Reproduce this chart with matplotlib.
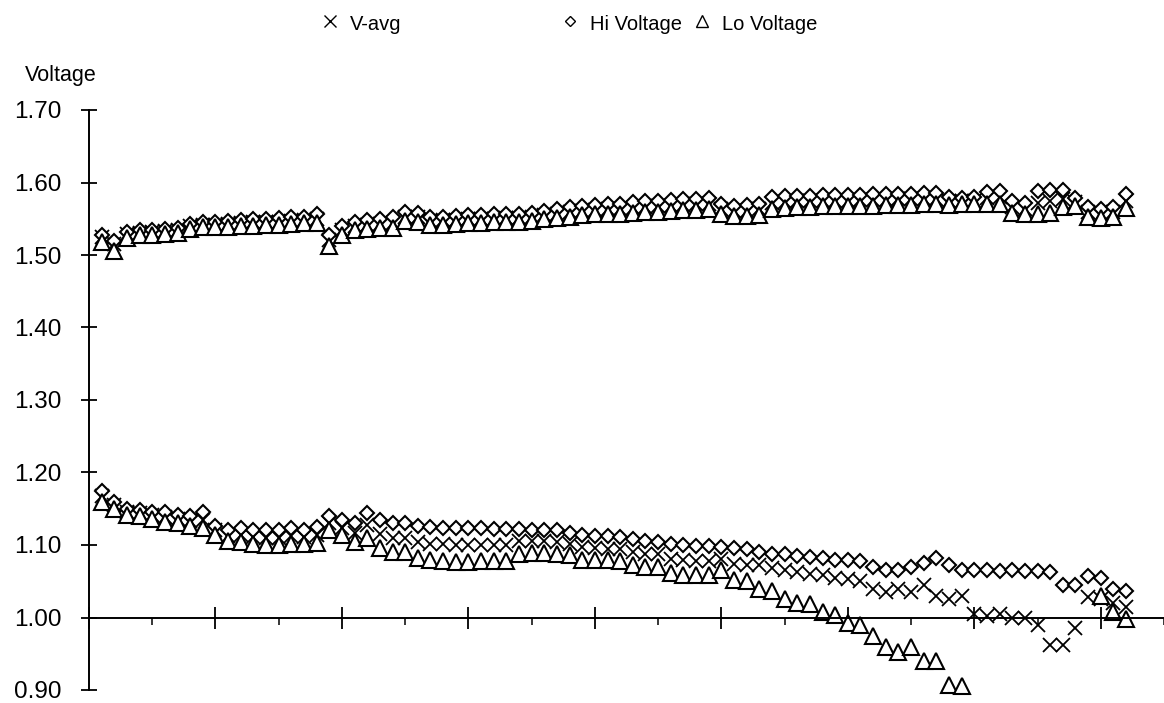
import numpy as np
import matplotlib
matplotlib.use("Agg")
from matplotlib import pyplot as plt
from matplotlib.lines import Line2D
from matplotlib.ticker import MultipleLocator, FormatStrFormatter

plt.rcParams['font.family'] = ['Liberation Sans', 'DejaVu Sans']

nan = np.nan
readings = np.arange(1, 83)

# upper pack
avg_top = [1.525, 1.515, 1.529, 1.531, 1.532, 1.533, 1.534, 1.540, 1.541, 1.542,
           1.543, 1.544, 1.545, 1.546, 1.546, 1.547, 1.548, 1.550, 1.521, 1.534,
           1.540, 1.542, 1.543, 1.544, 1.553, 1.552, 1.547, 1.548, 1.548, 1.549,
           1.550, 1.550, 1.551, 1.551, 1.552, 1.555, 1.557, 1.560, 1.561, 1.562,
           1.563, 1.564, 1.565, 1.566, 1.567, 1.568, 1.569, 1.570, 1.570, 1.563,
           1.561, 1.561, 1.563, 1.572, 1.573, 1.574, 1.574, 1.575, 1.575, 1.575,
           1.576, 1.576, 1.576, 1.577, 1.577, 1.577, 1.577, 1.574, 1.574, 1.575,
           1.579, 1.580, 1.566, 1.564, 1.572, 1.574, 1.577, 1.573, 1.559, 1.557,
           1.559, 1.574]
hi_top = [1.528, 1.520, 1.532, 1.534, 1.535, 1.536, 1.537, 1.543, 1.545, 1.546,
          1.547, 1.548, 1.549, 1.550, 1.551, 1.552, 1.553, 1.556, 1.528, 1.540,
          1.546, 1.548, 1.550, 1.552, 1.560, 1.558, 1.553, 1.553, 1.554, 1.555,
          1.555, 1.556, 1.556, 1.557, 1.558, 1.561, 1.563, 1.566, 1.568, 1.569,
          1.570, 1.571, 1.573, 1.574, 1.575, 1.576, 1.577, 1.577, 1.578, 1.570,
          1.568, 1.569, 1.571, 1.580, 1.581, 1.582, 1.582, 1.583, 1.583, 1.583,
          1.583, 1.584, 1.584, 1.584, 1.584, 1.585, 1.585, 1.580, 1.578, 1.580,
          1.587, 1.588, 1.574, 1.572, 1.588, 1.590, 1.589, 1.578, 1.566, 1.564,
          1.566, 1.584]
lo_top = [1.518, 1.506, 1.524, 1.527, 1.528, 1.529, 1.530, 1.536, 1.538, 1.538,
          1.539, 1.540, 1.540, 1.541, 1.542, 1.543, 1.544, 1.544, 1.512, 1.528,
          1.535, 1.536, 1.537, 1.537, 1.547, 1.546, 1.542, 1.542, 1.543, 1.544,
          1.544, 1.545, 1.545, 1.546, 1.547, 1.550, 1.551, 1.553, 1.555, 1.556,
          1.557, 1.557, 1.558, 1.559, 1.560, 1.561, 1.562, 1.562, 1.563, 1.556,
          1.554, 1.554, 1.555, 1.564, 1.565, 1.566, 1.566, 1.567, 1.567, 1.568,
          1.568, 1.568, 1.569, 1.569, 1.569, 1.570, 1.570, 1.569, 1.570, 1.570,
          1.571, 1.571, 1.558, 1.556, 1.556, 1.558, 1.566, 1.568, 1.553, 1.551,
          1.552, 1.565]

# lower pack
avg_bot = [1.168, 1.155, 1.146, 1.144, 1.141, 1.138, 1.136, 1.133, 1.134, 1.120,
           1.113, 1.114, 1.111, 1.110, 1.110, 1.112, 1.111, 1.114, 1.130, 1.124,
           1.117, 1.127, 1.115, 1.110, 1.110, 1.104, 1.102, 1.101, 1.100, 1.100,
           1.100, 1.100, 1.100, 1.105, 1.105, 1.105, 1.104, 1.101, 1.097, 1.096,
           1.095, 1.094, 1.090, 1.088, 1.087, 1.081, 1.079, 1.078, 1.078, 1.081,
           1.074, 1.072, 1.072, 1.068, 1.065, 1.063, 1.060, 1.058, 1.055, 1.053,
           1.050, 1.040, 1.035, 1.040, 1.035, 1.045, 1.030, 1.025, 1.030, 1.005,
           1.002, 1.005, 1.000, 1.000, 0.990, 0.962, 0.962, 0.985, 1.028, 1.025,
           1.020, 1.015]
hi_bot = [1.175, 1.160, 1.150, 1.148, 1.146, 1.145, 1.142, 1.140, 1.145, 1.126,
          1.120, 1.124, 1.121, 1.120, 1.120, 1.123, 1.121, 1.125, 1.140, 1.134,
          1.130, 1.144, 1.134, 1.130, 1.130, 1.126, 1.125, 1.124, 1.124, 1.123,
          1.123, 1.122, 1.122, 1.122, 1.121, 1.121, 1.120, 1.116, 1.114, 1.113,
          1.112, 1.111, 1.108, 1.106, 1.104, 1.102, 1.100, 1.099, 1.098, 1.097,
          1.096, 1.094, 1.090, 1.088, 1.087, 1.085, 1.084, 1.082, 1.080, 1.080,
          1.078, 1.070, 1.066, 1.066, 1.070, 1.075, 1.082, 1.072, 1.066, 1.065,
          1.065, 1.064, 1.065, 1.064, 1.064, 1.063, 1.045, 1.045, 1.057, 1.055,
          1.040, 1.036]
lo_bot = [1.160, 1.150, 1.142, 1.140, 1.136, 1.132, 1.130, 1.126, 1.124, 1.114,
          1.106, 1.104, 1.102, 1.100, 1.100, 1.101, 1.102, 1.103, 1.120, 1.114,
          1.104, 1.110, 1.096, 1.090, 1.090, 1.082, 1.080, 1.078, 1.077, 1.077,
          1.078, 1.078, 1.078, 1.088, 1.089, 1.089, 1.088, 1.086, 1.080, 1.080,
          1.079, 1.078, 1.072, 1.070, 1.070, 1.061, 1.059, 1.058, 1.058, 1.066,
          1.052, 1.050, 1.040, 1.036, 1.025, 1.020, 1.018, 1.008, 1.004, 0.993,
          0.990, 0.975, 0.960, 0.952, 0.960, 0.940, 0.940, 0.907, 0.905, nan,
          nan, nan, nan, nan, nan, nan, nan, nan, nan, 1.030,
          1.008, 0.998]

W, H = 1164, 703
fig = plt.figure(figsize=(W / 100, H / 100), dpi=100)
ax = fig.add_axes([89 / W, 13 / H, 1 - 89 / W, 580 / H])
ax.set_xlim(0, 85)
ax.set_ylim(0.90, 1.70)

avg_style = dict(ls='none', marker='x', ms=10, mew=1.3, color='black', clip_on=False)
hi_style = dict(ls='none', marker='D', ms=7.5, mew=1.5, mec='black', mfc='white', clip_on=False)
lo_style = dict(ls='none', marker='^', ms=11.5, mew=1.5, mec='black', mfc='white', clip_on=False)

for avg, hi, lo in [(avg_top, hi_top, lo_top), (avg_bot, hi_bot, lo_bot)]:
    ax.plot(readings, avg, **avg_style)
    ax.plot(readings, hi, **hi_style)
    ax.plot(readings, lo, **lo_style)

ax.spines['top'].set_visible(False)
ax.spines['right'].set_visible(False)
ax.spines['bottom'].set_position(('data', 1.0))
for s in ['left', 'bottom']:
    ax.spines[s].set_linewidth(1.4)

ax.xaxis.set_major_locator(MultipleLocator(10))
ax.xaxis.set_minor_locator(MultipleLocator(5))
ax.tick_params(axis='x', which='major', direction='inout', length=16, width=1.3,
               labelbottom=False)
ax.tick_params(axis='x', which='minor', direction='out', length=5, width=1.1)

ax.yaxis.set_major_locator(MultipleLocator(0.1))
ax.yaxis.set_major_formatter(FormatStrFormatter('%.2f'))
ax.tick_params(axis='y', which='major', direction='inout', length=12, width=1.3,
               labelsize=17.5, pad=14)

fig.text(25 / W, 1 - 75 / H, 'Voltage', fontsize=15.5, va='center', ha='left')

# legend row across the top
legend_items = [(330, 350, 'x', 'V-avg'), (570, 590, 'D', 'Hi Voltage'),
                (702, 722, '^', 'Lo Voltage')]
for mx, tx, mk, label in legend_items:
    size = {'x': 9, 'D': 5.5, '^': 9}[mk]
    fig.add_artist(Line2D([mx / W], [1 - 21 / H], transform=fig.transFigure,
                          marker=mk, ms=size, mew=1.0, mec='black', mfc='white',
                          color='black', ls='none'))
    fig.text(tx / W, 1 - 24 / H, label, fontsize=14.5, va='center', ha='left')

fig.savefig('out.png', dpi=100)
